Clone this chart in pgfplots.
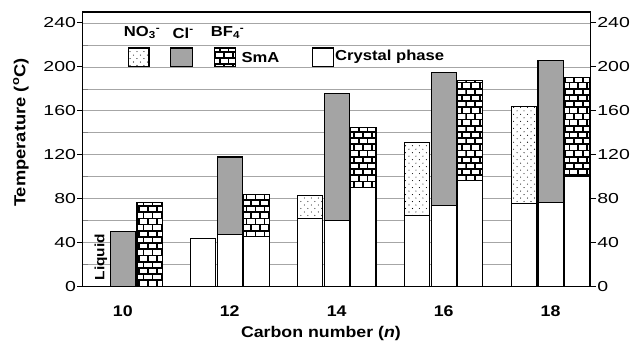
\documentclass[border=0pt]{standalone}
\usepackage{fontspec}
\setmainfont{Liberation Sans}[FakeStretch=1.15]
\newfontfamily\tickfont{Liberation Sans}[FakeStretch=1.35]
\usepackage{pgfplots}
\pgfplotsset{compat=1.18}
\usetikzlibrary{patterns}

\pgfdeclarepatternformonly{mydots}{\pgfqpoint{-1pt}{-1pt}}{\pgfqpoint{8pt}{8pt}}{\pgfqpoint{7pt}{7pt}}{%
  \pgfpathcircle{\pgfqpoint{1pt}{1pt}}{0.55pt}%
  \pgfpathcircle{\pgfqpoint{4.5pt}{4.5pt}}{0.55pt}%
  \pgfusepath{fill}}
\pgfdeclarepatternformonly{mybricks}{\pgfqpoint{-1pt}{-1pt}}{\pgfqpoint{10pt}{13.4pt}}{\pgfqpoint{9pt}{12.4pt}}{%
  \pgfsetlinewidth{1.7pt}%
  \pgfpathmoveto{\pgfqpoint{-1pt}{0pt}}\pgfpathlineto{\pgfqpoint{10pt}{0pt}}%
  \pgfpathmoveto{\pgfqpoint{-1pt}{6.2pt}}\pgfpathlineto{\pgfqpoint{10pt}{6.2pt}}%
  \pgfpathmoveto{\pgfqpoint{0pt}{0pt}}\pgfpathlineto{\pgfqpoint{0pt}{6.2pt}}%
  \pgfpathmoveto{\pgfqpoint{4.5pt}{6.2pt}}\pgfpathlineto{\pgfqpoint{4.5pt}{12.4pt}}%
  \pgfusepath{stroke}}

\definecolor{bargray}{RGB}{164,164,164}

\begin{document}
\begin{tikzpicture}
\pgfplotsset{
  common/.style={
    at={(0,0)}, anchor=south west,
    scale only axis, width=508bp, height=274.7bp,
    xmin=9.25, xmax=18.75, ymin=0, ymax=250,
    /pgf/number format/assume math mode=true,
    tick label style={font=\tickfont\fontsize{14.5}{16}\selectfont},
    axis line style={line width=1.2bp},
    major tick length=5.5bp,
  }
}
% right-hand axis with its tick labels
\begin{axis}[common,
  axis x line=none, axis y line*=right,
  ytick={0,40,...,240}, tick align=outside,
  yticklabel style={inner sep=1bp},
  tick style={line width=1bp, black},
]
\addplot[draw=none] coordinates {(10,0)};
\end{axis}
% main axis
\begin{axis}[common,
  xtick={10,12,14,16,18},
  major x tick style={draw=none},
  xticklabel style={font=\bfseries\fontsize{15.5}{17}\selectfont, anchor=center, yshift=-19bp},
  ytick={0,40,...,240}, minor ytick={20,60,...,220},
  ytick pos=left, tick align=outside,
  minor tick length=5.5bp,
  minor y tick style={xshift=5.5bp, line width=0.8bp},
  major y tick style={line width=1bp, black},
  yticklabel style={inner sep=1bp},
  ymajorgrids, yminorgrids,
  major grid style={line width=0.8bp, gray!70},
  minor grid style={line width=0.8bp, gray!70},
  xlabel={Carbon number (\textit{n})},
  xlabel style={font=\bfseries\fontsize{15.5}{17}\selectfont, at={(axis description cs:0.469,-0.169)}, anchor=center},
  ylabel={Temperature (\textsuperscript{o}C)},
  ylabel style={font=\bfseries\fontsize{16}{18}\selectfont, at={(axis description cs:-0.1215,0.561)}, anchor=center, rotate=0},
  every axis plot/.append style={ybar, bar width=0.47, bar shift=0pt, draw=black, line width=1.1bp},
]
% mesophase (full height) bars
\addplot[fill=white, postaction={pattern=mydots}] coordinates {(13.5,83) (15.5,131) (17.5,164)};
\addplot[fill=bargray] coordinates {(10,50) (12,118) (14,175.5) (16,195) (18,205.5)};
\addplot[fill=white, postaction={pattern=mybricks}] coordinates {(10.5,76.5) (12.5,84) (14.5,145) (16.5,188) (18.5,190.5)};
% crystal phase bars
\addplot[fill=white] coordinates {(11.5,44) (13.5,62) (15.5,65) (17.5,76)};
\addplot[fill=white] coordinates {(12,47.5) (14,60.5) (16,73.5) (18,77)};
\addplot[fill=white] coordinates {(12.5,45.5) (14.5,90) (16.5,96.5) (18.5,100)};

% legend
\begin{scope}[line width=1.1bp]
\draw[fill=white, postaction={pattern=mydots}] (axis cs:10.10,200) rectangle (axis cs:10.49,217.2);
\draw[fill=bargray] (axis cs:10.90,200) rectangle (axis cs:11.30,217.2);
\draw[fill=white, postaction={pattern=mybricks}] (axis cs:11.71,200) rectangle (axis cs:12.10,217.2);
\draw[fill=white] (axis cs:13.54,200) rectangle (axis cs:13.94,217.2);
\end{scope}
\node[font=\bfseries\fontsize{14.5}{16}\selectfont] at (axis cs:10.36,231) {NO\textsubscript{3}\textsuperscript{-}};
\node[font=\bfseries\fontsize{14.5}{16}\selectfont] at (axis cs:11.13,231) {Cl\textsuperscript{-}};
\node[font=\bfseries\fontsize{14.5}{16}\selectfont] at (axis cs:11.96,231) {BF\textsubscript{4}\textsuperscript{-}};
\node[font=\bfseries\fontsize{14.5}{16}\selectfont, anchor=west, inner sep=1bp] at (axis cs:12.2,209) {SmA};
\node[font=\bfseries\fontsize{14.5}{16}\selectfont, anchor=west, inner sep=1bp] at (axis cs:13.95,209) {Crystal phase};
\node[font=\bfseries\fontsize{13.5}{15}\selectfont, rotate=90] at (axis cs:9.59,27) {Liquid};
\end{axis}
\pgfresetboundingbox
\useasboundingbox (-82.7bp,-55.3bp) rectangle (548.3bp,286.7bp);
\end{tikzpicture}
\end{document}
